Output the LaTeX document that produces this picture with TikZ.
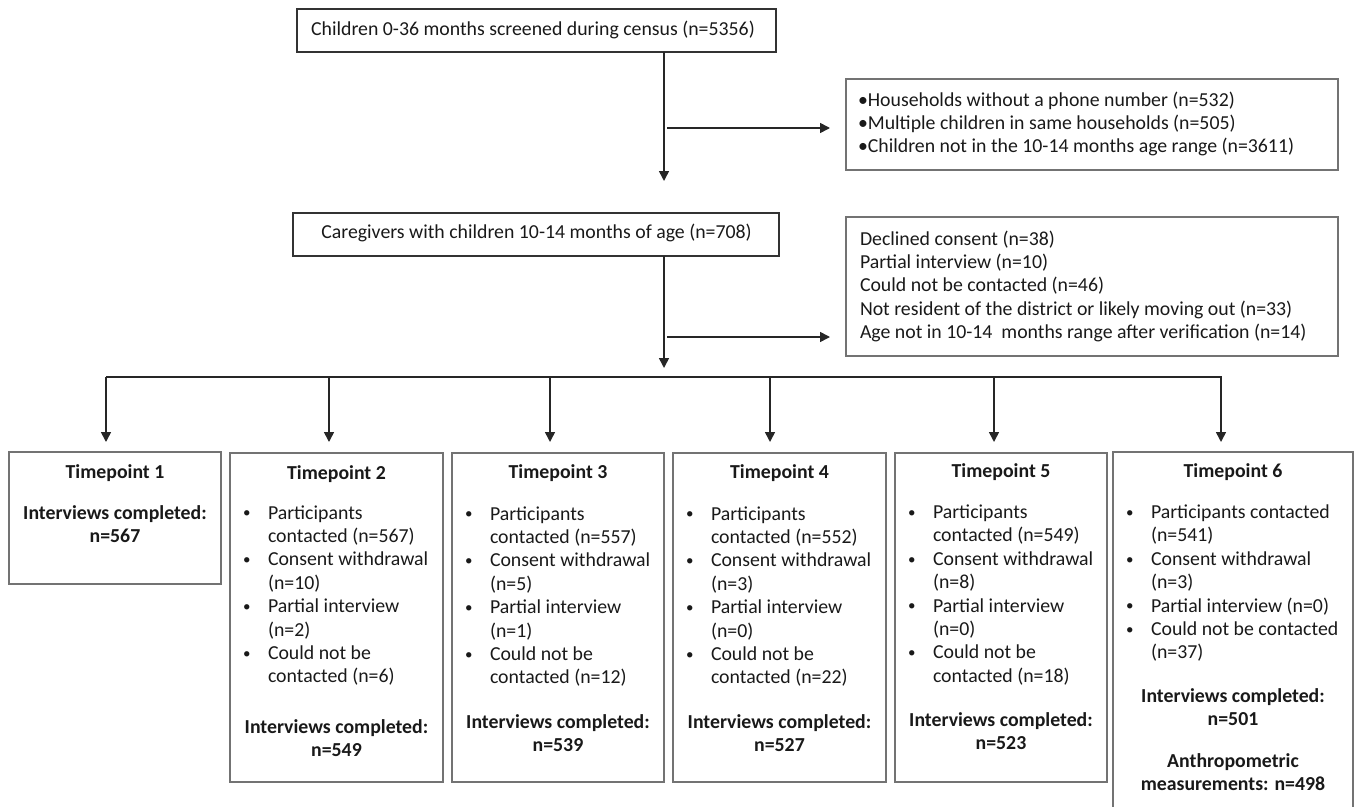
\documentclass[tikz,border=0pt]{standalone}
\usepackage{fontspec}
\setmainfont{Carlito}
\usetikzlibrary{arrows.meta}
\newcommand{\fs}{\fontsize{19.8}{23.4}\selectfont}
\newcommand{\llines}[1]{\begin{tabular}[t]{@{}l@{}}#1\end{tabular}}
\newcommand{\clines}[1]{\begin{tabular}[t]{@{}c@{}}#1\end{tabular}}
\newcommand{\bl}{\makebox[26pt][l]{\hspace*{1pt}\raisebox{1.2pt}{\fontsize{15}{15}\selectfont\textbullet}}}
\newcommand{\ind}{\hspace*{26pt}}
\tikzset{
  conn/.style={line width=1.6pt, draw=black!85},
  arr/.style={conn, -{Triangle[length=10pt,width=10pt]}},
  mainbox/.style={draw=black!80, line width=1.2pt, inner sep=0pt, outer sep=0pt, anchor=north west},
  greybox/.style={draw=black!55, line width=1.4pt, inner sep=0pt, outer sep=0pt, anchor=north west},
  txt/.style={inner sep=0pt, outer sep=0pt, font=\fs, text=black!90},
  btxt/.style={txt, font=\fs\bfseries, anchor=base},
}
\begin{document}
\begin{tikzpicture}[x=1pt,y=-1pt]
\useasboundingbox (0,0) rectangle (1354,806);
% boxes
\node[mainbox, minimum width=479pt, minimum height=43pt] (A) at (297,9) {};
\node[txt, anchor=base] (At) at (533,35.5) {Children 0-36 months screened during census (n=5356)};
\node[greybox, minimum width=492pt, minimum height=91pt] (E1) at (846,79) {};
\node[txt, anchor=base west] (E1t) at (858,106) {\llines{\textbullet Households without a phone number (n=532)\\
\textbullet Multiple children in same households (n=505)\\
\textbullet Children not in the 10-14 months age range (n=3611)}};
\node[mainbox, minimum width=486pt, minimum height=43pt] (B) at (293,213) {};
\node[txt, anchor=base] (Bt) at (536.5,238) {Caregivers with children 10-14 months of age (n=708)};
\node[greybox, minimum width=492pt, minimum height=139pt] (E2) at (846,217) {};
\node[txt, anchor=base west] (E2t) at (860,245) {\llines{Declined consent (n=38)\\
Partial interview (n=10)\\
Could not be contacted (n=46)\\
Not resident of the district or likely moving out (n=33)\\
Age not in 10-14\ \ months range after verification (n=14)}};
% connectors top
\coordinate (spine) at (664,0);
\coordinate (tipA) at (664,181);
\coordinate (tipB) at (664,368);
\coordinate (br1) at (667,128);
\coordinate (br1e) at (830,128);
\coordinate (br2) at (667,337);
\coordinate (br2e) at (830,337);
\draw[arr] (spine |- A.south) -- (tipA);
\draw[arr] (br1) -- (br1e);
\draw[arr] (spine |- B.south) -- (tipB);
\draw[arr] (br2) -- (br2e);
% bus
\coordinate (bus1) at (106,377);
\coordinate (bus2) at (329,377);
\coordinate (bus3) at (550,377);
\coordinate (bus4) at (770,377);
\coordinate (bus5) at (994,377);
\coordinate (bus6) at (1221,377);
\draw[conn] (bus1) -- (1222,377);
\foreach \i in {1,...,6}{
  \draw[arr] (bus\i) -- ([yshift=-65pt]bus\i);
}
% timepoint boxes
\node[greybox, minimum width=212pt, minimum height=132pt] (tp1) at (9,452) {};
\node[greybox, minimum width=213pt, minimum height=329pt] (tp2) at (230,453) {};
\node[greybox, minimum width=212pt, minimum height=329pt] (tp3) at (452,453) {};
\node[greybox, minimum width=213pt, minimum height=329pt] (tp4) at (673,453) {};
\node[greybox, minimum width=212pt, minimum height=329pt] (tp5) at (895,453) {};
\node[greybox, minimum width=240pt, minimum height=380pt] (tp6) at (1113,452) {};
% TP1
\node[btxt] (t1h) at (115,478.5) {Timepoint 1};
\node[btxt] (t1r) at (115,519.5) {\clines{Interviews completed:\\ n=567}};
% TP2
\node[btxt] (t2h) at (336.5,479) {Timepoint 2};
\node[txt, anchor=base west] (t2l) at (242,519) {\llines{\bl Participants\\ \ind contacted (n=567)\\ \bl Consent withdrawal\\ \ind (n=10)\\ \bl Partial interview\\ \ind (n=2)\\ \bl Could not be\\ \ind contacted (n=6)}};
\node[btxt] (t2r) at (336.5,733.5) {\clines{Interviews completed:\\ n=549}};
% TP3
\node[btxt] (t3h) at (558,478.5) {Timepoint 3};
\node[txt, anchor=base west] (t3l) at (464,520) {\llines{\bl Participants\\ \ind contacted (n=557)\\ \bl Consent withdrawal\\ \ind (n=5)\\ \bl Partial interview\\ \ind (n=1)\\ \bl Could not be\\ \ind contacted (n=12)}};
\node[btxt] (t3r) at (558,728) {\clines{Interviews completed:\\ n=539}};
% TP4
\node[btxt] (t4h) at (779.5,478.5) {Timepoint 4};
\node[txt, anchor=base west] (t4l) at (685,520) {\llines{\bl Participants\\ \ind contacted (n=552)\\ \bl Consent withdrawal\\ \ind (n=3)\\ \bl Partial interview\\ \ind (n=0)\\ \bl Could not be\\ \ind contacted (n=22)}};
\node[btxt] (t4r) at (779.5,728) {\clines{Interviews completed:\\ n=527}};
% TP5
\node[btxt] (t5h) at (1001,477.5) {Timepoint 5};
\node[txt, anchor=base west] (t5l) at (907,518.5) {\llines{\bl Participants\\ \ind contacted (n=549)\\ \bl Consent withdrawal\\ \ind (n=8)\\ \bl Partial interview\\ \ind (n=0)\\ \bl Could not be\\ \ind contacted (n=18)}};
\node[btxt] (t5r) at (1001,726.5) {\clines{Interviews completed:\\ n=523}};
% TP6
\node[btxt] (t6h) at (1233,477.5) {Timepoint 6};
\node[txt, anchor=base west] (t6l) at (1125,518.5) {\llines{\bl Participants contacted\\ \ind (n=541)\\ \bl Consent withdrawal\\ \ind (n=3)\\ \bl Partial interview (n=0)\\ \bl Could not be contacted\\ \ind (n=37)}};
\node[btxt] (t6r) at (1233,702.5) {\clines{Interviews completed:\\ n=501}};
\node[btxt] (t6a) at (1233,767.5) {\clines{Anthropometric\\ measurements: n=498}};
\end{tikzpicture}
\end{document}
